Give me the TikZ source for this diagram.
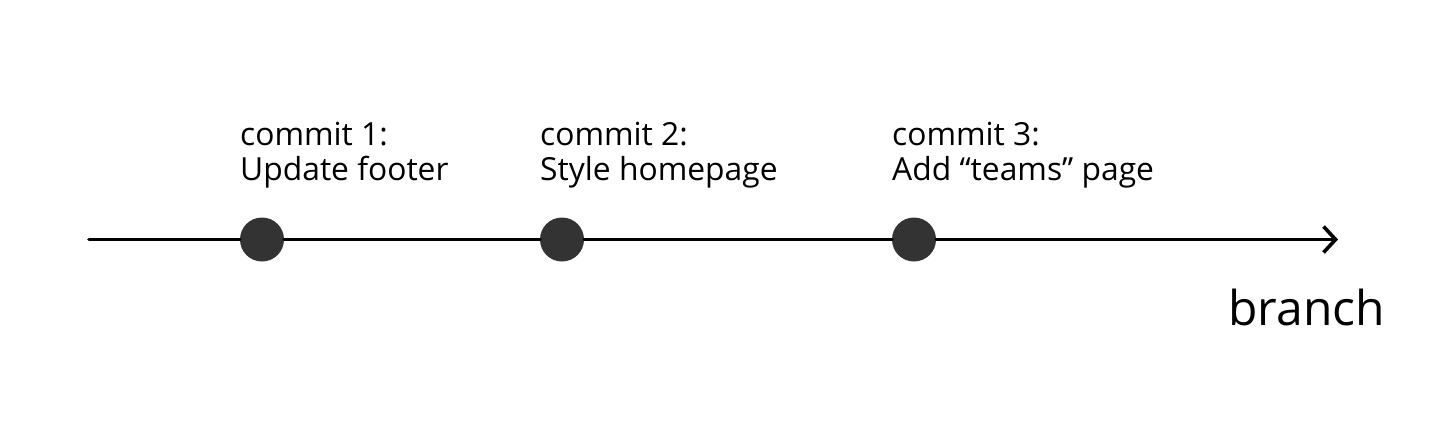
\documentclass[tikz,border=0pt]{standalone}
\usepackage{fontspec}
\setmainfont{Open Sans}
\usetikzlibrary{arrows.meta}
\definecolor{dotgray}{HTML}{333333}
\begin{document}
\begin{tikzpicture}[x=1pt,y=-1pt,
  commitdot/.style={circle,fill=dotgray,minimum size=44pt,inner sep=0pt},
  label/.style={anchor=base west,inner sep=0pt,font=\fontsize{31.8}{38}\selectfont},
  branchline/.style={line width=3.6pt,line cap=round,line join=round}]
\useasboundingbox (0,0) rectangle (1452,440);
\coordinate (start) at (89,239.5);
\coordinate (end) at (1338,239.5);
\node[commitdot] (c1) at (262,239.5) {};
\node[commitdot] (c2) at (562,239.5) {};
\node[commitdot] (c3) at (914,239.5) {};
\draw[branchline,-{Straight Barb[length=12pt,width=26pt,line width=3.6pt]}] (start) -- (c1) -- (c2) -- (c3) -- (end);
\node[label] (t1a) at (240,145) {commit 1:};
\node[label] (t1b) at (240,180) {Update footer};
\node[label] (t2a) at (540,145) {commit 2:};
\node[label] (t2b) at (540,180) {Style homepage};
\node[label] (t3a) at (892,145) {commit 3:};
\node[label] (t3b) at (892,180) {Add “teams” page};
\node[anchor=base east,inner sep=0pt,font=\fontsize{48}{58}\selectfont] (br) at (1385,325) {branch};
\end{tikzpicture}
\end{document}
